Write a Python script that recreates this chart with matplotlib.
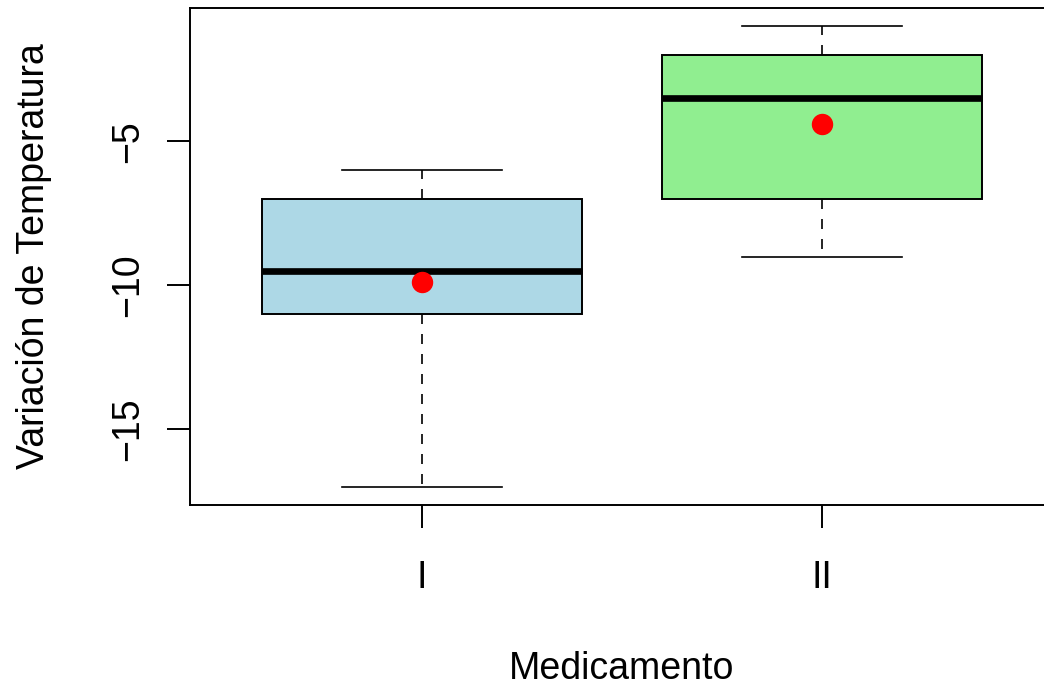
import matplotlib
matplotlib.use("Agg")
import matplotlib.pyplot as plt

categories = ["I", "II"]
whisker_low = [-17, -9]
q1 = [-11, -7]
medians = [-9.5, -3.5]
q3 = [-7, -2]
whisker_high = [-6, -1]
means = [-9.9, -4.4]
box_colors = ["#ADD8E6", "#90EE90"]

plt.rcParams['font.family'] = ['Liberation Sans', 'DejaVu Sans']

fig = plt.figure(figsize=(10.44, 6.9), dpi=100)
ax = fig.add_axes([190/1044, (690-505)/690, (1054-190)/1044, (505-8)/690])

stats = []
for i, c in enumerate(categories):
    stats.append(dict(label=c, whislo=whisker_low[i], q1=q1[i], med=medians[i],
                      q3=q3[i], whishi=whisker_high[i], fliers=[]))
positions = list(range(1, len(categories) + 1))
bp = ax.bxp(stats, positions=positions, widths=0.8, patch_artist=True,
            showfliers=False,
            boxprops=dict(linewidth=1.4, edgecolor="black"),
            medianprops=dict(color="black", linewidth=4.8, solid_capstyle="butt"),
            whiskerprops=dict(color="black", linewidth=1.2, linestyle=(0, (6, 6))),
            capprops=dict(color="black", linewidth=1.2),
            capwidths=0.4)
for patch, col in zip(bp["boxes"], box_colors):
    patch.set_facecolor(col)

ax.plot(positions, means, "o", color="red", markersize=14.4, zorder=5)

ax.set_xlim(0.42, 2.58)
ax.set_ylim(-17.64, -0.36)
ax.set_xticks(positions)
ax.set_xticklabels(categories)
ax.set_yticks([-15, -10, -5])
ax.set_yticklabels(["\u221215", "\u221210", "\u22125"], rotation=90, va="center")

for s in ax.spines.values():
    s.set_linewidth(1.4)

ax.tick_params(axis="both", direction="out", length=16.5, width=1.4, labelsize=27)
ax.tick_params(axis="x", pad=23)
ax.tick_params(axis="y", pad=15)
ax.set_xlabel("Medicamento", fontsize=27, labelpad=40)
ax.set_ylabel("Variación de Temperatura", fontsize=27, labelpad=42)

fig.savefig("out.png", dpi=100)
